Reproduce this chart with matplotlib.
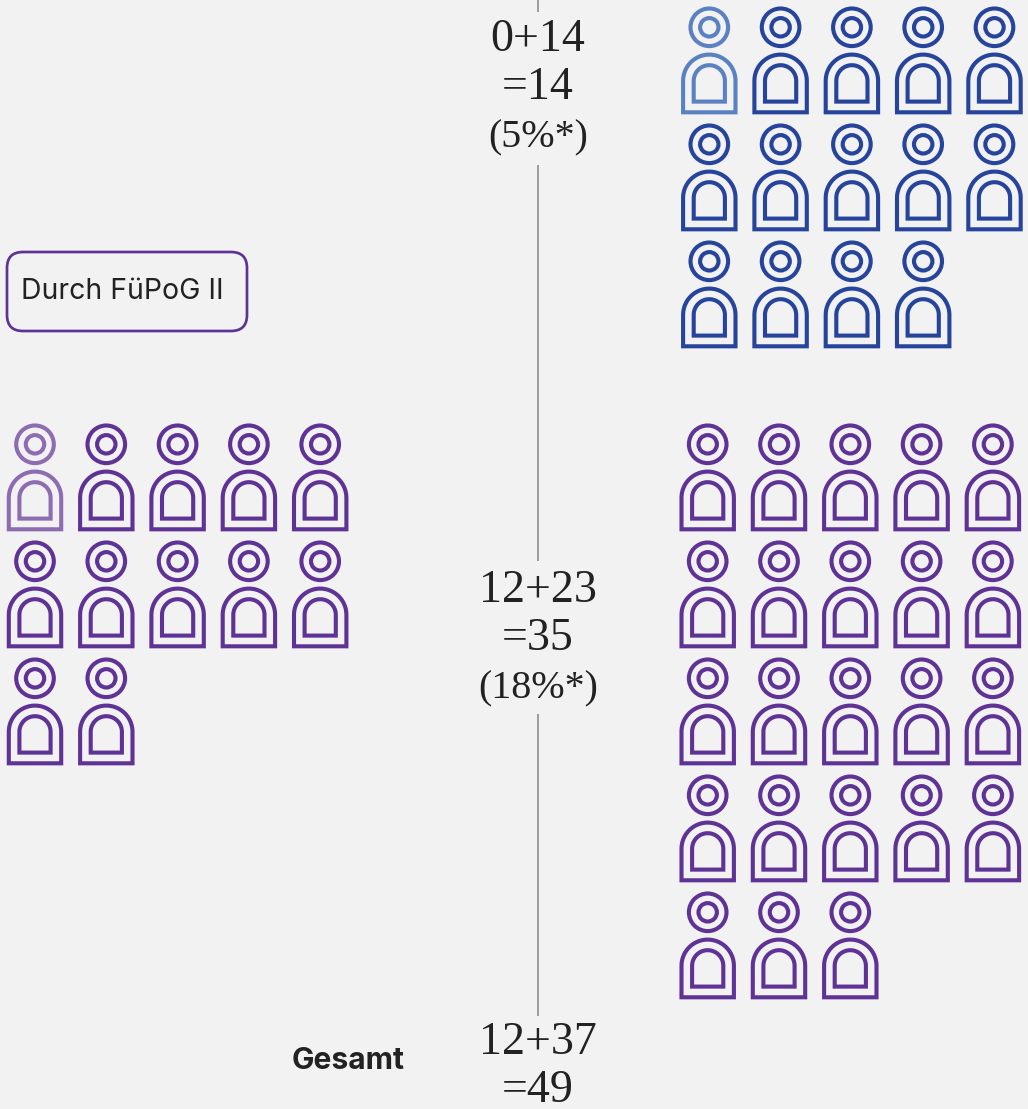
import numpy as np
import matplotlib
matplotlib.use("Agg")
import matplotlib.pyplot as plt
from matplotlib.patches import Circle, FancyBboxPatch, PathPatch
from matplotlib.path import Path

# Data
blue_count = 14
purple_left_count = 12
purple_right_count = 23
row_labels = [["0+14", "=14", "(5%*)"], ["12+23", "=35", "(18%*)"], ["12+37", "=49"]]
box_label = "Durch FüPoG II"
total_label = "Gesamt"

# Colours
BG = "#f2f2f2"
BLUE = "#26449b"
BLUE_LIGHT = "#5a82c2"
PURPLE = "#5f3296"
PURPLE_LIGHT = "#8e6cb2"
INK = "#222222"
STEM = "#8a8a8a"

PX = 0.72  # pixels to points at dpi 100
COLS = 5
PITCH_X = 71.3
PITCH_Y = 117
STROKE = 4.1


def arch(x, y, r, bottom, cy=53.5):
    t = np.linspace(np.pi, 2 * np.pi, 40)
    xs = np.r_[x - r, x + r * np.cos(t), x + r, x - r]
    ys = np.r_[y + bottom, y + cy + r * np.sin(t), y + bottom, y + bottom]
    return Path(np.column_stack([xs, ys]), closed=True)


def person(ax, x, y, color):
    for r in (18.8, 9.2):
        ax.add_patch(Circle((x, y), r, fill=False, ec=color, lw=STROKE * PX))
    for r, bottom in ((26.2, 85), (15.6, 74.3)):
        ax.add_patch(PathPatch(arch(x, y, r, bottom), fill=False, ec=color,
                               lw=STROKE * PX, joinstyle="miter"))


def group(ax, n, x0, y0, color, first_color):
    for i in range(n):
        row, col = divmod(i, COLS)
        person(ax, x0 + col * PITCH_X, y0 + row * PITCH_Y,
               first_color if i == 0 else color)


fig = plt.figure(figsize=(10.28, 11.09), dpi=100, facecolor=BG)
ax = fig.add_axes([0, 0, 1, 1])
ax.set_xlim(0, 1028)
ax.set_ylim(1109, 0)
ax.axis("off")

# Centre stem, broken where the numbers sit
for y0, y1 in [(0, 12), (165, 561), (714, 1016)]:
    ax.plot([538, 538], [y0, y1], color=STEM, lw=1.6 * PX, solid_capstyle="butt")

group(ax, blue_count, 709.3, 27.3, BLUE, BLUE_LIGHT)
group(ax, purple_left_count, 35, 444.3, PURPLE, PURPLE_LIGHT)
group(ax, purple_right_count, 707.7, 444.3, PURPLE, PURPLE)

# Numbers in the middle, the percent lines run narrower in the original
for labels, base in zip(row_labels, [51, 602, 1054]):
    for i, s in enumerate(labels):
        size = 40 if s.startswith("(") else 46
        ax.text(538, base + i * 48, s, ha="center", va="baseline", color=INK,
                family="Liberation Serif", fontsize=size * PX)

# Box label
ax.add_patch(FancyBboxPatch((21, 266), 212, 51, boxstyle="round,pad=14,rounding_size=16",
                            fill=False, ec=PURPLE, lw=2.7 * PX))
ax.text(21, 299, box_label, ha="left", va="baseline", color=INK,
        family="Inter", fontsize=28.4 * PX)

ax.text(292, 1069, total_label, ha="left", va="baseline", color=INK,
        family="Inter", fontweight="bold", fontsize=30 * PX)

fig.savefig("out.png", dpi=100, facecolor=BG)
